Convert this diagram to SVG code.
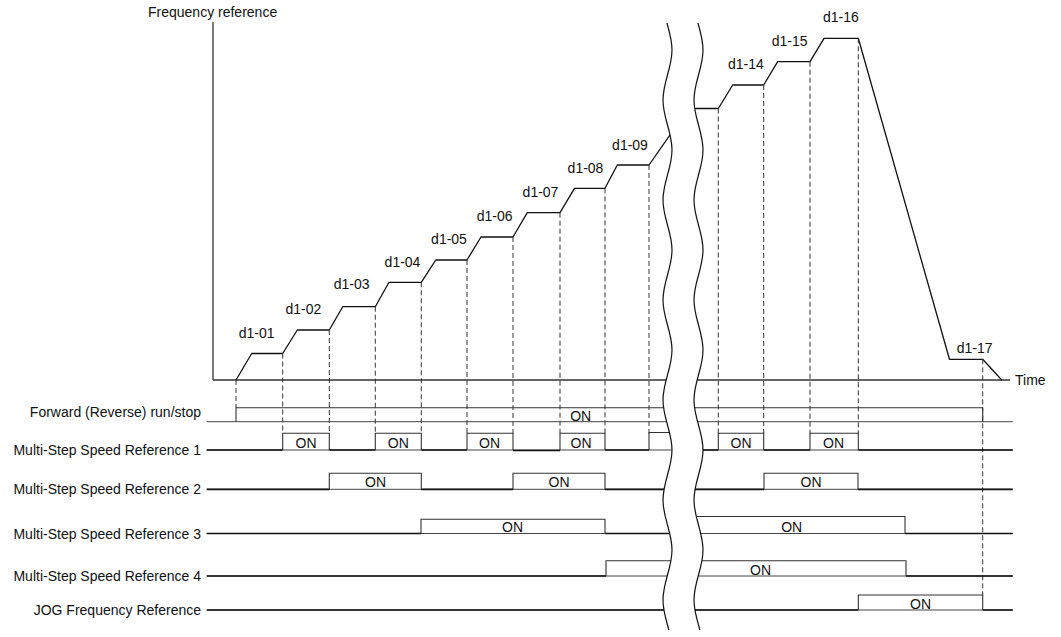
<svg xmlns="http://www.w3.org/2000/svg" width="1061" height="637" viewBox="0 0 1061 637">
<style>
text{font-family:"Liberation Sans",Arial,sans-serif;font-size:14px;fill:#111}
.lbl{text-anchor:end}
.mid{text-anchor:middle}
.axis{stroke:#333;stroke-width:1.3;fill:none}
.curve{stroke:#111;stroke-width:1.3;fill:none;stroke-linejoin:round}
.dash{stroke:#333;stroke-width:1;stroke-dasharray:5 3;fill:none}
.base{stroke:#444;stroke-width:1;fill:none}
.low{stroke:#111;stroke-width:1.7;fill:none}
.pulse{stroke:#333;stroke-width:1.1;fill:none}
.wave{stroke:#111;stroke-width:1.2;fill:none}
</style>
<defs>
<clipPath id="brk"><rect x="0" y="23" width="1061" height="607"/></clipPath>
</defs>
<rect width="1061" height="637" fill="#fff"/>

<g id="axes">
<line class="axis" x1="213" y1="22" x2="213" y2="380"/>
<line class="axis" x1="213" y1="380" x2="1010" y2="380"/>
<text x="148" y="16.5">Frequency reference</text>
<text x="1015" y="385">Time</text>
</g>

<g id="frequency-curve">
<polyline class="curve" points="236,380 251.7,353.5 282.7,353.5 297.3,330 329.3,330 342.7,306.7 375.3,306.7 389,282.3 421.3,282.3 435.7,260 467,260 481,237 513,237 527.3,212.7 560,212.7 574.5,188.3 605,188.3 617.3,165 649,165 680,120.7"/>
<polyline class="curve" points="688,108.5 718.3,108.5 732.7,85 763.7,85 777.7,61.7 810,61.7 824,38.3 858.3,38.3 949.5,359.3 982.7,359.3 1001.7,380"/>
</g>

<g id="step-labels">
<text class="mid" x="256.7" y="338">d1-01</text>
<text class="mid" x="303.3" y="314.3">d1-02</text>
<text class="mid" x="351.7" y="288.7">d1-03</text>
<text class="mid" x="402.5" y="266.7">d1-04</text>
<text class="mid" x="449" y="244.3">d1-05</text>
<text class="mid" x="494.7" y="220.7">d1-06</text>
<text class="mid" x="540.5" y="197">d1-07</text>
<text class="mid" x="585.5" y="172.6">d1-08</text>
<text class="mid" x="630" y="150">d1-09</text>
<text class="mid" x="745.8" y="69.3">d1-14</text>
<text class="mid" x="789.7" y="46">d1-15</text>
<text class="mid" x="840.8" y="22.3">d1-16</text>
<text class="mid" x="974.7" y="353.3">d1-17</text>
</g>

<g id="connectors">
<line class="dash" x1="236" y1="380" x2="236" y2="407.7"/>
<line class="dash" x1="282.7" y1="353.5" x2="282.7" y2="433.3"/>
<line class="dash" x1="329.3" y1="330" x2="329.3" y2="433.3"/>
<line class="dash" x1="375.3" y1="306.7" x2="375.3" y2="433.3"/>
<line class="dash" x1="421.3" y1="282.3" x2="421.3" y2="433.3"/>
<line class="dash" x1="467" y1="260" x2="467" y2="433.3"/>
<line class="dash" x1="513" y1="237" x2="513" y2="433.3"/>
<line class="dash" x1="560" y1="212.7" x2="560" y2="433.3"/>
<line class="dash" x1="605" y1="188.3" x2="605" y2="433.3"/>
<line class="dash" x1="649" y1="165" x2="649" y2="433.3"/>
<line class="dash" x1="718.3" y1="108.5" x2="718.3" y2="433.3"/>
<line class="dash" x1="763.7" y1="85" x2="763.7" y2="433.3"/>
<line class="dash" x1="810" y1="61.7" x2="810" y2="433.3"/>
<line class="dash" x1="858.3" y1="38.3" x2="858.3" y2="433.3"/>
<line class="dash" x1="982.7" y1="359.3" x2="982.7" y2="595"/>
</g>

<g id="row-forward">
<text class="lbl" x="201" y="417">Forward (Reverse) run/stop</text>
<line class="base" x1="206.7" y1="421.7" x2="1012.7" y2="421.7"/>
<polyline class="pulse" points="236,421.7 236,407.7 982.7,407.7 982.7,421.7"/>
<text class="mid" x="580.7" y="420.7">ON</text>
</g>

<g id="row-msr1">
<text class="lbl" x="201" y="455">Multi-Step Speed Reference 1</text>
<line class="base" x1="206.7" y1="450" x2="1012.7" y2="450"/>
<path class="low" d="M206.7,450H282.7M329.3,450H375.3M421.3,450H467M513,450.5H560M605,450H649M685,450H718.3M763.7,450H810M858.3,450H1012.7"/>
<path class="pulse" d="M282.7,450V433.3H329.3V450M375.3,450V433.3H421.3V450M467,450V433.3H513V450M560,450V433.3H605V450M649,450V432.5H685M718.3,450V433.3H763.7V450M810,450V433.3H858.3V450"/>
<text class="mid" x="306" y="447.7">ON</text>
<text class="mid" x="398.3" y="447.7">ON</text>
<text class="mid" x="489.5" y="447.7">ON</text>
<text class="mid" x="581" y="447.7">ON</text>
<text class="mid" x="741" y="447.7">ON</text>
<text class="mid" x="833.5" y="447.7">ON</text>
</g>

<g id="row-msr2">
<text class="lbl" x="201" y="494">Multi-Step Speed Reference 2</text>
<line class="base" x1="206.7" y1="489.3" x2="1012.7" y2="489.3"/>
<path class="low" d="M206.7,489.3H329.3M421.3,489.3H513M605,489.3H764M858,489.3H1012.7"/>
<path class="pulse" d="M329.3,489.3V473.3H421.3V489.3M513,489.3V473.3H605V489.3M764,489.3V473.3H858V489.3"/>
<text class="mid" x="375.5" y="487.3">ON</text>
<text class="mid" x="559" y="487.3">ON</text>
<text class="mid" x="811" y="487.3">ON</text>
</g>

<g id="row-msr3">
<text class="lbl" x="201" y="538.5">Multi-Step Speed Reference 3</text>
<line class="base" x1="206.7" y1="533.5" x2="1012.7" y2="533.5"/>
<path class="low" d="M206.7,533.5H421M605,533.5H685M905,533.5H1012.7"/>
<path class="pulse" d="M421,533.5V519.3H605V533.5M685,516.5H905V533.5"/>
<text class="mid" x="512.5" y="532">ON</text>
<text class="mid" x="791.7" y="532">ON</text>
</g>

<g id="row-msr4">
<text class="lbl" x="201" y="581">Multi-Step Speed Reference 4</text>
<line class="base" x1="206.7" y1="576" x2="1012.7" y2="576"/>
<path class="low" d="M206.7,576H606M906,576H1012.7"/>
<path class="pulse" d="M606,576V560.7H906V576"/>
<text class="mid" x="760.5" y="575">ON</text>
</g>

<g id="row-jog">
<text class="lbl" x="201" y="615">JOG Frequency Reference</text>
<line class="base" x1="206.7" y1="610" x2="1012.7" y2="610"/>
<path class="low" d="M206.7,610H858.3M982.7,610H1012.7"/>
<path class="pulse" d="M858.3,610V595H982.7V610"/>
<text class="mid" x="920.5" y="608.7">ON</text>
</g>

<g id="time-break" clip-path="url(#brk)">
<path fill="#fff" stroke="none" d="M663,0 C663,18.17 672,31.83 672,50 S663,81.83 663,100 S672,131.83 672,150 S663,181.83 663,200 S672,231.83 672,250 S663,281.83 663,300 S672,331.83 672,350 S663,381.83 663,400 S672,431.83 672,450 S663,481.83 663,500 S672,531.83 672,550 S663,581.83 663,600 S672,631.83 672,650 L703,650 C703,631.83 694,618.17 694,600 S703,568.17 703,550 S694,518.17 694,500 S703,468.17 703,450 S694,418.17 694,400 S703,368.17 703,350 S694,318.17 694,300 S703,268.17 703,250 S694,218.17 694,200 S703,168.17 703,150 S694,118.17 694,100 S703,68.17 703,50 S694,18.17 694,0 Z"/>
<path class="wave" d="M663,0 C663,18.17 672,31.83 672,50 S663,81.83 663,100 S672,131.83 672,150 S663,181.83 663,200 S672,231.83 672,250 S663,281.83 663,300 S672,331.83 672,350 S663,381.83 663,400 S672,431.83 672,450 S663,481.83 663,500 S672,531.83 672,550 S663,581.83 663,600 S672,631.83 672,650"/>
<path class="wave" d="M694,0 C694,18.17 703,31.83 703,50 S694,81.83 694,100 S703,131.83 703,150 S694,181.83 694,200 S703,231.83 703,250 S694,281.83 694,300 S703,331.83 703,350 S694,381.83 694,400 S703,431.83 703,450 S694,481.83 694,500 S703,531.83 703,550 S694,581.83 694,600 S703,631.83 703,650"/>
</g>
</svg>
